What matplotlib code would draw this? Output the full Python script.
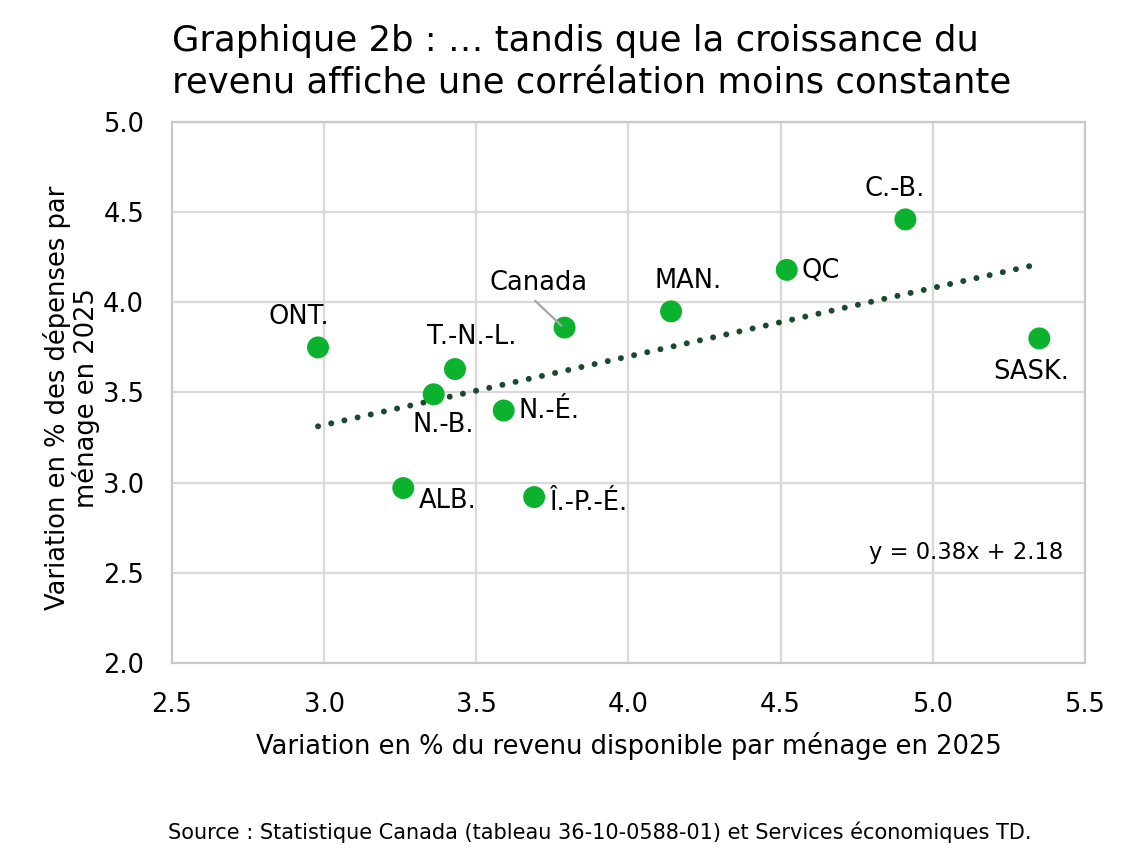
import matplotlib
matplotlib.use("Agg")
import matplotlib.pyplot as plt
import numpy as np

plt.rcParams["font.family"] = ["DejaVu Sans"]

# data
provinces = ["ONT.", "N.-B.", "T.-N.-L.", "ALB.", "N.-É.", "Î.-P.-É.",
             "Canada", "MAN.", "QC", "C.-B.", "SASK."]
income_growth = [2.98, 3.36, 3.43, 3.26, 3.59, 3.69, 3.79, 4.14, 4.52, 4.91, 5.35]
spending_growth = [3.75, 3.49, 3.63, 2.97, 3.40, 2.92, 3.86, 3.95, 4.18, 4.46, 3.80]
slope, intercept = 0.38, 2.18

x_ticks = [2.5, 3.0, 3.5, 4.0, 4.5, 5.0, 5.5]
y_ticks = [2.0, 2.5, 3.0, 3.5, 4.0, 4.5, 5.0]

# label offsets (points) and alignment per province
_LABEL_POS = {
    "ONT.": ((-14, 22), "center"),
    "N.-B.": ((7, -22), "center"),
    "T.-N.-L.": ((12, 23), "center"),
    "ALB.": ((11, -9), "left"),
    "N.-É.": ((11, 0), "left"),
    "Î.-P.-É.": ((11, -4), "left"),
    "Canada": ((-19, 32), "center"),
    "MAN.": ((12, 22), "center"),
    "QC": ((11, -1), "left"),
    "C.-B.": ((-8, 22), "center"),
    "SASK.": ((-6, -24), "center"),
}

POINT_COLOR = "#0bb22d"
LINE_COLOR = "#1b4a2a"
GRID_COLOR = "#d9d9d9"

fig = plt.figure(figsize=(11.38, 8.48), dpi=100)
ax = fig.add_axes([0.1511, 0.2182, 0.8023, 0.6379])

ax.set_xlim(x_ticks[0], x_ticks[-1])
ax.set_ylim(y_ticks[0], y_ticks[-1])
ax.set_xticks(x_ticks)
ax.set_yticks(y_ticks)
ax.set_xticklabels([f"{t:.1f}" for t in x_ticks])
ax.set_yticklabels([f"{t:.1f}" for t in y_ticks])
ax.tick_params(length=0, labelsize=18.5)
ax.tick_params(axis="x", pad=21)
ax.tick_params(axis="y", pad=20)
ax.grid(True, color=GRID_COLOR, lw=1.6, zorder=0)
ax.set_axisbelow(True)
for s in ax.spines.values():
    s.set_color("#c8c8c8")
    s.set_linewidth(1.6)

# trend line over the range of the data
xs = np.array([min(income_growth), max(income_growth)])
ax.plot(xs, slope * xs + intercept, color=LINE_COLOR, lw=4.3,
        ls=(0, (0.01, 2.25)), dash_capstyle="round", zorder=3)

ax.scatter(income_growth, spending_growth, s=250, color=POINT_COLOR,
           edgecolors="none", zorder=4)

for name, x, y in zip(provinces, income_growth, spending_growth):
    (dx, dy), ha = _LABEL_POS[name]
    ax.annotate(name, xy=(x, y), xytext=(dx, dy), textcoords="offset points",
                ha=ha, va="center", fontsize=18.5, zorder=5)

# leader line for Canada
ax.annotate("", xy=(income_growth[6] - 0.01, spending_growth[6] + 0.01),
            xytext=(-19, 18), textcoords="offset points",
            arrowprops=dict(arrowstyle="-", color="#a6a6a6", lw=1.6,
                            shrinkA=0, shrinkB=0), zorder=5)

ax.text(0.976, 0.205, f"y = {slope:.2f}x + {intercept:.2f}", transform=ax.transAxes,
        ha="right", va="center", fontsize=16.3)

ax.set_xlabel("Variation en % du revenu disponible par ménage en 2025",
              fontsize=18.5, labelpad=10)
ax.set_ylabel("Variation en % des dépenses par\nménage en 2025",
              fontsize=18.5, linespacing=1.05)
ax.yaxis.set_label_coords(-0.079, 0.49)

fig.text(0.151, 0.972, "Graphique 2b : … tandis que la croissance du\n"
         "revenu affiche une corrélation moins constante",
         ha="left", va="top", fontsize=25.5, linespacing=1.32)
fig.text(0.1476, 0.019, "Source : Statistique Canada (tableau 36-10-0588-01) et "
         "Services économiques TD.", ha="left", va="center", fontsize=15)

fig.savefig("out.png", dpi=100)
